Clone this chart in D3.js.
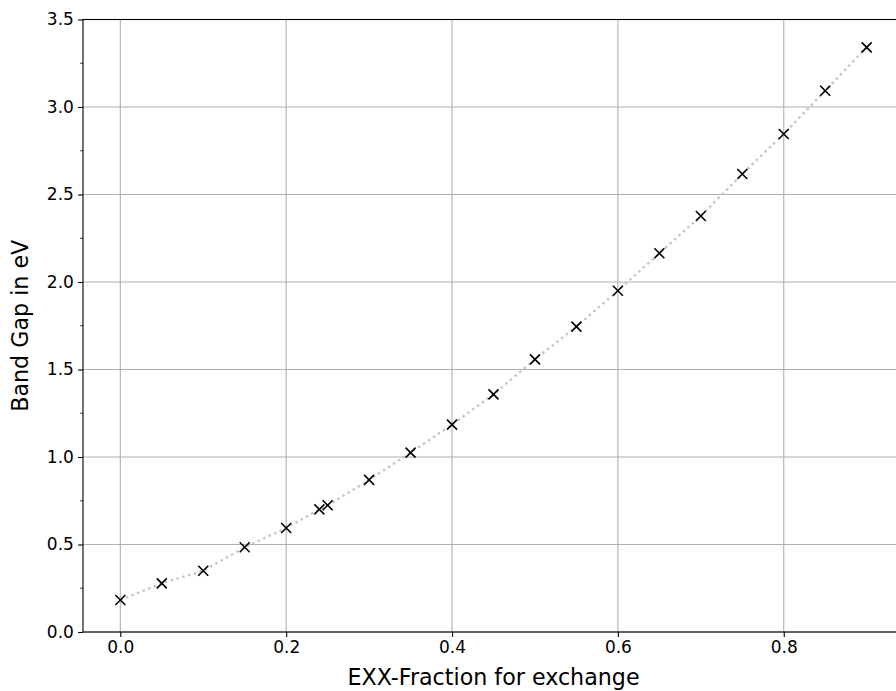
<!DOCTYPE html>
<html>
<head>
<meta charset="utf-8">
<script src="https://cdn.jsdelivr.net/npm/d3@7"></script>
<style>
  body { margin: 0; background: #fff; }
  svg { display: block; font-family: "DejaVu Sans", sans-serif; }
</style>
</head>
<body>
<div id="chart"></div>
<script>
// EXX fraction vs band gap
const fractions = [0.0, 0.05, 0.1, 0.15, 0.2, 0.24, 0.25, 0.3, 0.35, 0.4, 0.45,
                   0.5, 0.55, 0.6, 0.65, 0.7, 0.75, 0.8, 0.85, 0.9];
const gaps = [0.183, 0.278, 0.350, 0.484, 0.594, 0.701, 0.724, 0.869, 1.025, 1.185, 1.358,
              1.558, 1.745, 1.950, 2.164, 2.377, 2.617, 2.846, 3.093, 3.341];
const xTicks = [0.0, 0.2, 0.4, 0.6, 0.8];
const yTicks = [0.0, 0.5, 1.0, 1.5, 2.0, 2.5, 3.0, 3.5];
const yMinorTicks = [0.25, 0.75, 1.25, 1.75, 2.25, 2.75, 3.25];

const W = 896, H = 691;
const margin = { top: 19.5, right: -8, bottom: 59, left: 83 },
      width = W - margin.left - margin.right,
      height = H - margin.top - margin.bottom;

const data = fractions.map((f, i) => ({ x: f, y: gaps[i] }));

const svg = d3.select("#chart")
    .append("svg")
    .attr("width", W)
    .attr("height", H);

const g = svg.append("g")
    .attr("transform", `translate(${margin.left},${margin.top})`);

const xScale = d3.scaleLinear()
    .domain([-0.045, 0.945])
    .range([0, width]);

const yScale = d3.scaleLinear()
    .domain([0, 3.5])
    .range([height, 0]);

// grid
g.append("g").selectAll("line.vgrid")
    .data(xTicks).enter().append("line")
    .attr("x1", d => xScale(d)).attr("x2", d => xScale(d))
    .attr("y1", 0).attr("y2", height)
    .style("stroke", "#b0b0b0").style("stroke-width", 1.1);

g.append("g").selectAll("line.hgrid")
    .data(yTicks).enter().append("line")
    .attr("x1", 0).attr("x2", width)
    .attr("y1", d => yScale(d)).attr("y2", d => yScale(d))
    .style("stroke", "#b0b0b0").style("stroke-width", 1.1);

// dotted line
const line = d3.line()
    .x(d => xScale(d.x))
    .y(d => yScale(d.y));

g.append("path")
    .datum(data)
    .attr("d", line)
    .style("fill", "none")
    .style("stroke", "#c4c4c4")
    .style("stroke-width", 2.4)
    .style("stroke-dasharray", "2.4 3.6");

// x markers
const s = 5;
g.append("g").selectAll("path.mark")
    .data(data).enter().append("path")
    .attr("d", d => {
        const cx = xScale(d.x), cy = yScale(d.y);
        return `M${cx - s},${cy - s}L${cx + s},${cy + s}M${cx - s},${cy + s}L${cx + s},${cy - s}`;
    })
    .style("stroke", "#000")
    .style("stroke-width", 1.6)
    .style("fill", "none");

// axes
const xAxis = g.append("g")
    .attr("transform", `translate(0,${height})`)
    .call(d3.axisBottom(xScale).tickValues(xTicks).tickFormat(d3.format(".1f"))
        .tickSize(4.9).tickPadding(4.2));

const yAxis = g.append("g")
    .call(d3.axisLeft(yScale).tickValues(yTicks).tickFormat(d3.format(".1f"))
        .tickSize(4.9).tickPadding(4.2));

g.append("g").selectAll("line.minor")
    .data(yMinorTicks).enter().append("line")
    .attr("x1", -2.8).attr("x2", 0)
    .attr("y1", d => yScale(d)).attr("y2", d => yScale(d))
    .style("stroke", "#000").style("stroke-width", 0.8);

[xAxis, yAxis].forEach(a => {
    a.select(".domain").remove();
    a.selectAll(".tick line").style("stroke", "#000").style("stroke-width", 1.1);
    a.selectAll(".tick text")
        .style("font-family", "DejaVu Sans, sans-serif")
        .style("font-size", "17px")
        .style("fill", "#000");
});

// frame
g.append("rect")
    .attr("x", 0).attr("y", 0)
    .attr("width", width).attr("height", height)
    .style("fill", "none")
    .style("stroke", "#000")
    .style("stroke-width", 1.1);

// labels
g.append("text")
    .attr("x", width / 2)
    .attr("y", height + 53)
    .attr("text-anchor", "middle")
    .style("font-size", "22.2px")
    .text("EXX-Fraction for exchange");

g.append("text")
    .attr("transform", "rotate(-90)")
    .attr("x", -height / 2)
    .attr("y", -55)
    .attr("text-anchor", "middle")
    .style("font-size", "22.2px")
    .text("Band Gap in eV");
</script>
</body>
</html>
